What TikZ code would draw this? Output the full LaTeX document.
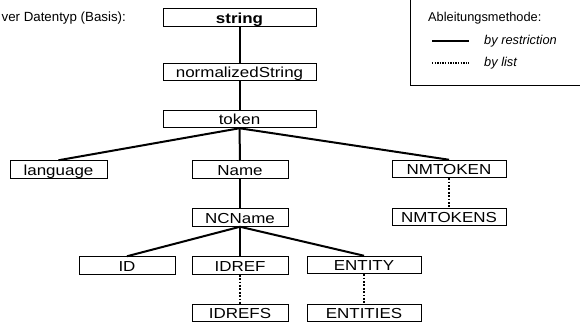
\documentclass[tikz,border=0pt]{standalone}
\usepackage{fontspec}
\setmainfont{Liberation Sans}
\newfontfamily\treefont[FakeStretch=1.17]{Liberation Sans}
\begin{document}
\begin{tikzpicture}[x=1pt,y=-1pt,
  tbox/.style={draw, line width=1pt, inner sep=0pt, minimum height=17.5pt,
    text height=12pt, text depth=0.5pt, font=\treefont\fontsize{14.5}{14.5}\selectfont},
  restr/.style={line width=2pt},
  listd/.style={line width=2pt, dash pattern=on 1.8pt off 1.6pt},
  lgtext/.style={font=\fontsize{12.8}{14}\selectfont, inner sep=0pt},
  lbl/.style={font=\fontsize{13.3}{15}\selectfont, inner sep=0pt}]
\useasboundingbox (0,0) rectangle (580,323);
% left label
\node[lbl, anchor=base east] (basis) at (126,22) {ver Datentyp (Basis):};
% tree boxes
\node[tbox, minimum width=153pt] (string) at (239.5,17.5) {\bfseries string};
\node[tbox, minimum width=153pt] (normstr) at (239.5,72) {normalizedString};
\node[tbox, minimum width=153pt] (token) at (239.5,119) {token};
\node[tbox, minimum width=97pt] (language) at (58.5,169.5) {language};
\node[tbox, minimum width=96pt] (name) at (240,169.5) {Name};
\node[tbox, minimum width=114pt] (nmtoken) at (449,169) {NMTOKEN};
\node[tbox, minimum width=96pt] (ncname) at (240,217.5) {NCName};
\node[tbox, minimum width=114pt] (nmtokens) at (449,217) {NMTOKENS};
\node[tbox, minimum width=96pt] (id) at (127,265.5) {ID};
\node[tbox, minimum width=96pt] (idref) at (240,265.5) {IDREF};
\node[tbox, minimum width=114pt] (entity) at (364,265) {ENTITY};
\node[tbox, minimum width=96pt] (idrefs) at (240,313) {IDREFS};
\node[tbox, minimum width=114pt] (entities) at (364,313) {ENTITIES};
% restriction connectors
\draw[restr] (string.south) -- (normstr.north);
\draw[restr] (normstr.south) -- (token.north);
\draw[restr] (token.south) -- (language.north);
\draw[restr] (token.south) -- (name.north);
\draw[restr] (token.south) -- (nmtoken.north);
\draw[restr] (name.south) -- (ncname.north);
\draw[restr] (ncname.south) -- (id.north);
\draw[restr] (ncname.south) -- (idref.north);
\draw[restr] (ncname.south) -- (entity.north);
% list connectors
\draw[listd] (nmtoken.south) -- (nmtokens.north);
\draw[listd] (idref.south) -- (idrefs.north);
\draw[listd] (entity.south) -- (entities.north);
% legend
\draw[line width=1pt] (410,-5) rectangle (590,86);
\node[lgtext, anchor=base west] (lgtitle) at (428,22) {Ableitungsmethode:};
\coordinate (ra) at (432,41);
\coordinate (rb) at (469,41);
\coordinate (la) at (432,63);
\coordinate (lb) at (469,63);
\draw[restr] (ra) -- (rb);
\draw[line width=1.6pt, dash pattern=on 1.3pt off 1.3pt] (la) -- (lb);
\node[lgtext, anchor=base west] (lgr) at (484,45) {\itshape by restriction};
\node[lgtext, anchor=base west] (lgl) at (484,67) {\itshape by list};
\end{tikzpicture}
\end{document}
